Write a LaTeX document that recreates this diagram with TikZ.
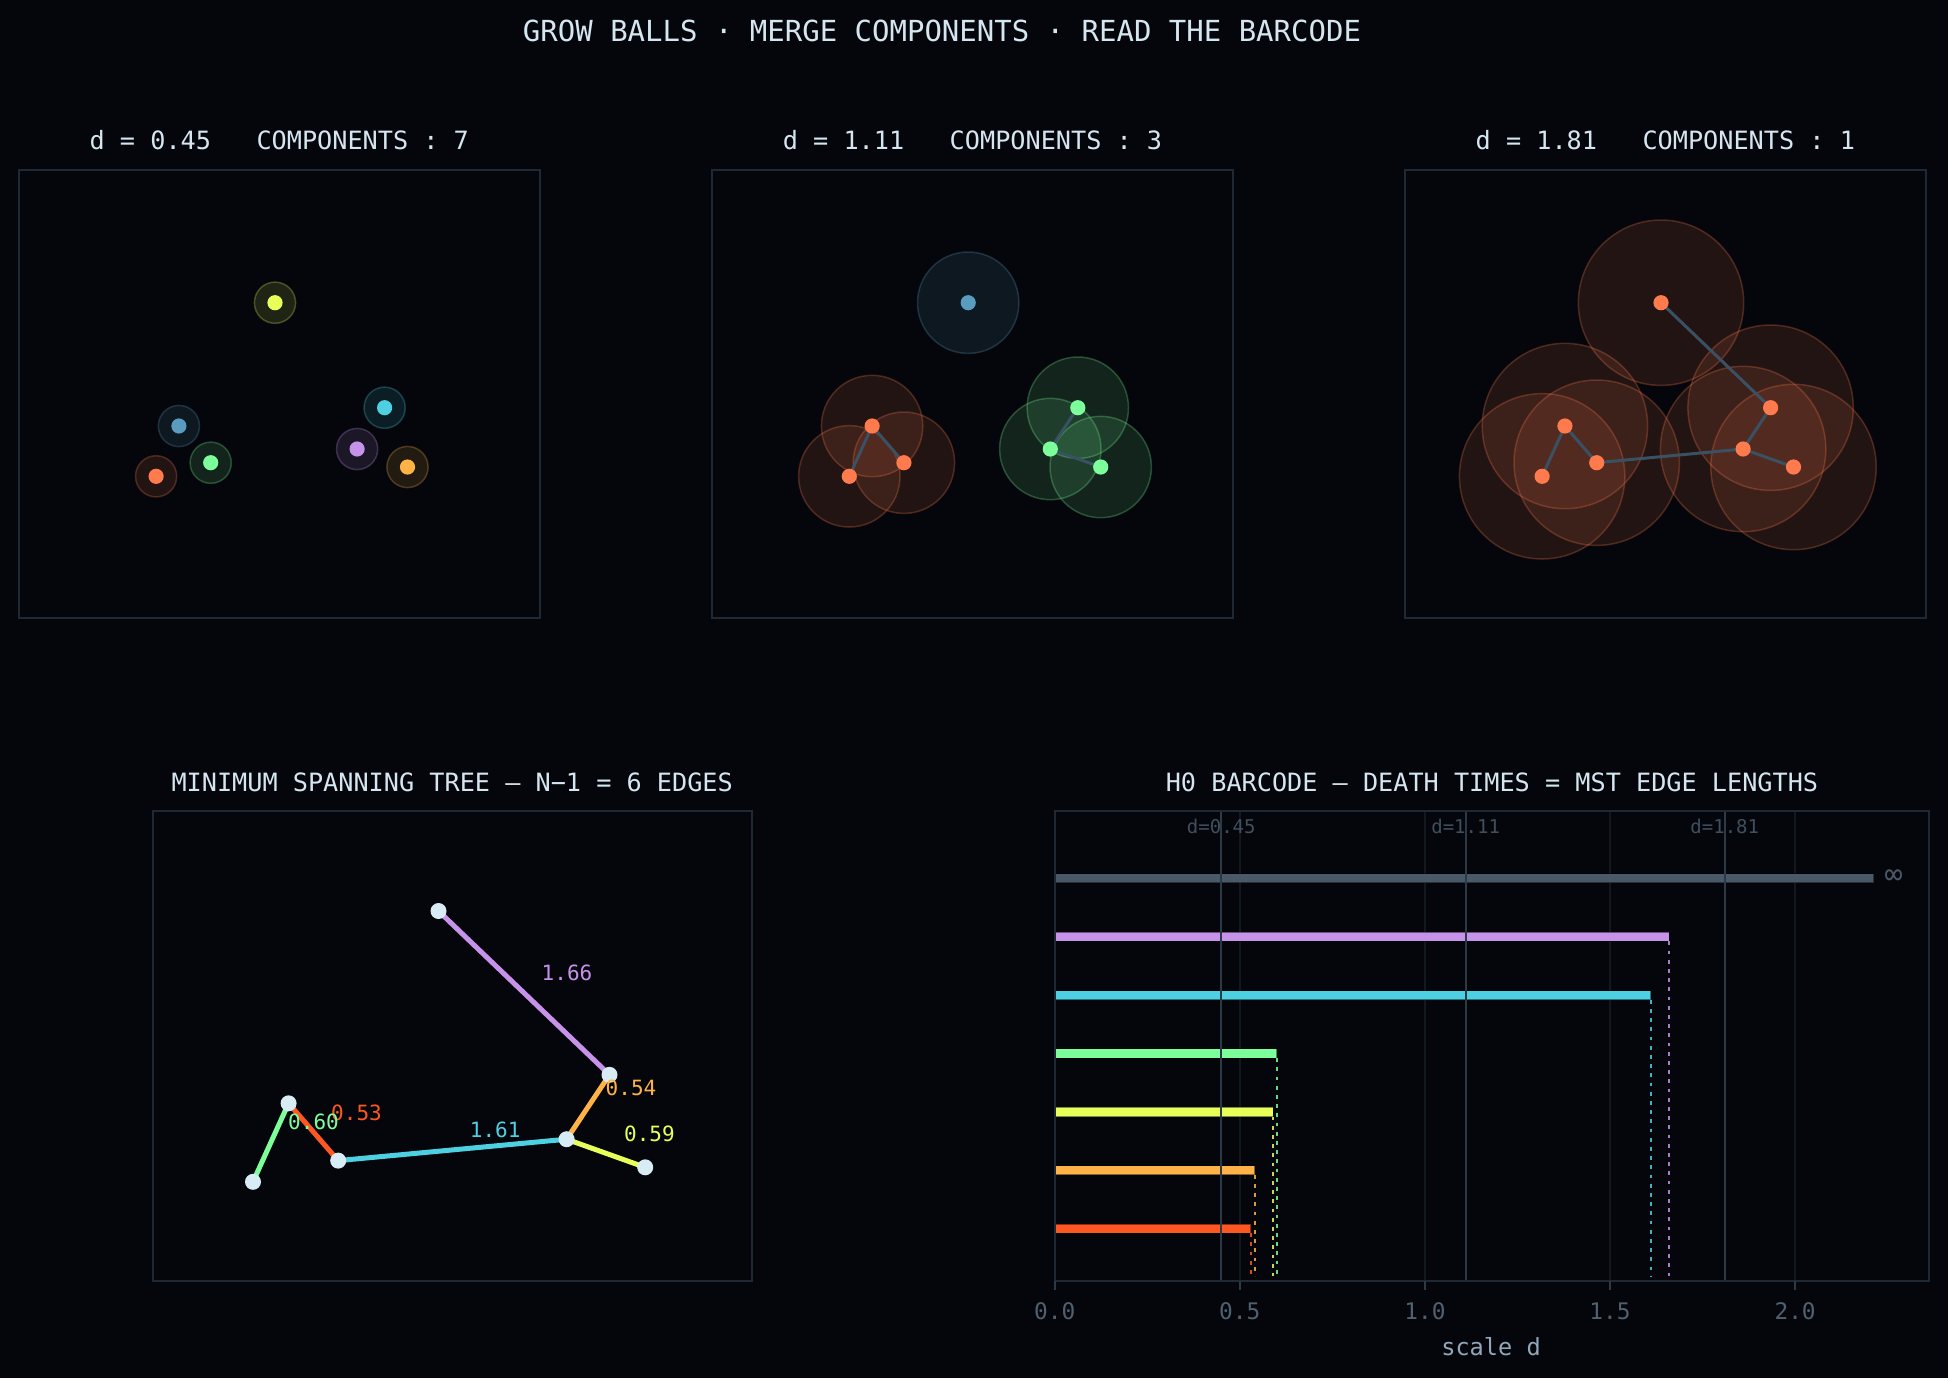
\documentclass[tikz,border=0pt]{standalone}
\usepackage{fontspec}
\setmainfont{DejaVu Sans Mono}
\definecolor{bg}{HTML}{04060B}
\definecolor{boxc}{HTML}{1E2935}
\definecolor{txt}{HTML}{D6E6F0}
\definecolor{linkc}{HTML}{3A5063}
\definecolor{cyel}{HTML}{E8FF5A}
\definecolor{cblu}{HTML}{5A9BC0}
\definecolor{ccya}{HTML}{4DD0E1}
\definecolor{cpur}{HTML}{C792EA}
\definecolor{cgrn}{HTML}{7CFF9B}
\definecolor{ccor}{HTML}{FF7A4D}
\definecolor{corg}{HTML}{FFB347}
\definecolor{cred}{HTML}{FF5722}
\definecolor{cgry}{HTML}{4A5968}
\definecolor{nodec}{HTML}{D8ECF6}
\definecolor{gridc}{HTML}{111820}
\definecolor{markc}{HTML}{2C3A47}
\definecolor{dlab}{HTML}{3F4F5E}
\definecolor{tickc}{HTML}{4F6070}
\definecolor{xlab}{HTML}{93A7B8}
\newcommand\mkpts[1]{%
  \coordinate (#1Y) at (256.4,132.7);
  \coordinate (#1B) at (160.3,256);
  \coordinate (#1C) at (366,237.7);
  \coordinate (#1P) at (338.5,279);
  \coordinate (#1G) at (192.1,292.7);
  \coordinate (#1R) at (137.5,306.3);
  \coordinate (#1O) at (388.9,297);}
\begin{document}
\begin{tikzpicture}[x=0.5pt,y=-0.5pt,
  maintitle/.style={text=txt,font=\fontsize{14.5}{17}\selectfont,inner sep=0pt},
  ptitle/.style={text=txt,font=\fontsize{12.6}{15}\selectfont,inner sep=0pt},
  panelbox/.style={draw=boxc,line width=1pt},
  ball/.style={fill=#1,draw=#1,fill opacity=0.12,draw opacity=0.26,line width=0.75pt},
  pdot/.style={circle,inner sep=0pt,minimum size=7.6pt,fill=#1},
  link/.style={draw=linkc,line width=1.5pt},
  mstnode/.style={circle,fill=nodec,inner sep=0pt,minimum size=8pt},
  mstedge/.style={draw=#1,line width=2.5pt},
  elabel/.style={text=#1,font=\fontsize{10.5}{12}\selectfont,inner sep=0pt},
  gridl/.style={draw=gridc,line width=0.8pt},
  markl/.style={draw=markc,line width=1pt},
  bar/.style={fill=#1,draw=black,draw opacity=0.45,line width=0.5pt},
  dline/.style={draw=#1,line width=0.9pt,draw opacity=0.85,dash pattern=on 1.9pt off 2.7pt},
  dlabel/.style={text=dlab,font=\fontsize{9.5}{11}\selectfont,inner sep=0pt},
  ticklab/.style={text=tickc,font=\fontsize{11.4}{13}\selectfont,inner sep=0pt},
  tickm/.style={draw=markc,line width=0.8pt}]
\fill[bg] (0,0) rectangle (1948,1378);
\useasboundingbox (0,0) rectangle (1948,1378);

\node[maintitle] (title) at (942,31) {GROW BALLS · MERGE COMPONENTS · READ THE BARCODE};

% ---------- panel 1
\node[ptitle] (t1) at (279.3,140.4) {d = 0.45\ \ \ COMPONENTS : 7};
\begin{scope}[shift={(18.6,170)}]
\draw[panelbox] (0,0) rectangle (521.4,447.7);
\mkpts{a}
\foreach \n/\c in {Y/cyel,B/cblu,C/ccya,P/cpur,G/cgrn,R/ccor,O/corg}
  {\path[ball=\c] (a\n) circle[radius=10.3pt];}
\foreach \n/\c in {Y/cyel,B/cblu,C/ccya,P/cpur,G/cgrn,R/ccor,O/corg}
  {\node[pdot=\c] (da\n) at (a\n) {};}
\end{scope}

% ---------- panel 2
\node[ptitle] (t2) at (972.5,140.4) {d = 1.11\ \ \ COMPONENTS : 3};
\begin{scope}[shift={(711.8,170)}]
\draw[panelbox] (0,0) rectangle (521.4,447.7);
\mkpts{b}
\foreach \n/\c in {Y/cblu,B/ccor,G/ccor,R/ccor,C/cgrn,P/cgrn,O/cgrn}
  {\path[ball=\c] (b\n) circle[radius=25.35pt];}
\draw[link] (bB) -- (bG);
\draw[link] (bB) -- (bR);
\draw[link] (bC) -- (bP);
\draw[link] (bP) -- (bO);
\foreach \n/\c in {Y/cblu,B/ccor,G/ccor,R/ccor,C/cgrn,P/cgrn,O/cgrn}
  {\node[pdot=\c] (db\n) at (b\n) {};}
\end{scope}

% ---------- panel 3
\node[ptitle] (t3) at (1665.3,140.4) {d = 1.81\ \ \ COMPONENTS : 1};
\begin{scope}[shift={(1404.6,170)}]
\draw[panelbox] (0,0) rectangle (521.4,447.7);
\mkpts{c}
\foreach \n in {Y,B,C,P,G,R,O}
  {\path[ball=ccor] (c\n) circle[radius=41.35pt];}
\draw[link] (cY) -- (cC);
\draw[link] (cC) -- (cP);
\draw[link] (cP) -- (cO);
\draw[link] (cP) -- (cG);
\draw[link] (cG) -- (cB);
\draw[link] (cB) -- (cR);
\foreach \n in {Y,B,C,P,G,R,O}
  {\node[pdot=ccor] (dc\n) at (c\n) {};}
\end{scope}

% ---------- MST
\node[ptitle] (t4) at (452.2,782.6) {MINIMUM SPANNING TREE — N−1 = 6 EDGES};
\draw[panelbox] (152.8,811.2) rectangle (751.6,1280.8);
\coordinate (mY) at (438.5,911);
\coordinate (mB) at (288.6,1103.3);
\coordinate (mC) at (609.5,1074.8);
\coordinate (mP) at (566.6,1139.2);
\coordinate (mG) at (338.2,1160.6);
\coordinate (mR) at (253.0,1181.8);
\coordinate (mO) at (645.2,1167.3);
\draw[mstedge=cpur] (mY) -- (mC);
\draw[mstedge=corg] (mC) -- (mP);
\draw[mstedge=cyel] (mP) -- (mO);
\draw[mstedge=ccya] (mP) -- (mG);
\draw[mstedge=cred] (mG) -- (mB);
\draw[mstedge=cgrn] (mB) -- (mR);
\foreach \n in {Y,B,C,P,G,R,O}
  {\node[mstnode] (n\n) at (m\n) {};}
\node[elabel=cpur] (l1) at (567,972.7) {1.66};
\node[elabel=corg] (l2) at (631,1087.8) {0.54};
\node[elabel=cyel] (l3) at (649.4,1133.4) {0.59};
\node[elabel=ccya] (l4) at (495.2,1129.5) {1.61};
\node[elabel=cred] (l5) at (356.5,1112.5) {0.53};
\node[elabel=cgrn] (l6) at (313.5,1122) {0.60};

% ---------- Barcode
\node[ptitle] (t5) at (1492,782.6) {H0 BARCODE — DEATH TIMES = MST EDGE LENGTHS};
\begin{scope}[shift={(1054.7,0)},x=185.1pt]
\foreach \v in {0.5,1,1.5,2}
  {\draw[gridl] (\v,811.2) -- (\v,1280.8);}
\foreach \v/\y/\c in {2.213/878.3/cgry,1.66/936.7/cpur,1.61/995.1/ccya,0.60/1053.5/cgrn,0.59/1111.9/cyel,0.54/1170.2/corg,0.53/1228.6/cred}
  {\path[bar=\c] (0,{\y-4.6}) rectangle (\v,{\y+4.6});}
\foreach \v/\y/\c in {1.66/936.7/cpur,1.61/995.1/ccya,0.60/1053.5/cgrn,0.59/1111.9/cyel,0.54/1170.2/corg,0.53/1228.6/cred}
  {\draw[dline=\c] (\v,{\y+4.6}) -- (\v,1276);}
\foreach \v/\t in {0.45/0.45,1.11/1.11,1.81/1.81}
  {\draw[markl] (\v,811.2) -- (\v,1280.8);
   \node[dlabel] at (\v,826) {d=\t};}
\node[text=cgry,font=\fontsize{15}{16}\selectfont,inner sep=0pt] (inf) at (2.266,877) {∞};
\draw[panelbox] (0,811.2) rectangle (2.3625,1280.8);
\foreach \v/\t in {0/0.0,0.5/0.5,1/1.0,1.5/1.5,2/2.0}
  {\draw[tickm] (\v,1281) -- (\v,1290);
   \node[ticklab] at (\v,1311) {\t};}
\node[text=xlab,font=\fontsize{11.8}{13}\selectfont,inner sep=0pt] (xl) at (1.1786,1347) {scale d};
\end{scope}
\end{tikzpicture}
\end{document}
